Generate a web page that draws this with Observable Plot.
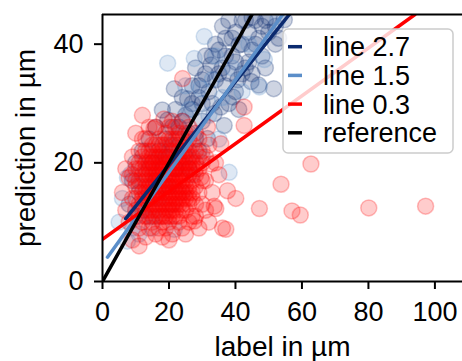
<!DOCTYPE html>
<html><head><meta charset="utf-8">
<script src="https://cdn.jsdelivr.net/npm/d3@7"></script>
<script src="https://cdn.jsdelivr.net/npm/@observablehq/plot@0.6"></script>
<style>body{margin:0;background:#fff;} #chart{position:relative;width:462px;height:361px;}</style>
</head><body><div id="chart"></div>
<script>
const seriesNames = ["line 2.7", "line 1.5", "line 0.3"];
const seriesColors = ["#0b2a6f", "#5b8ec9", "#ff0000"];
const referenceName = "reference";
const referenceColor = "#000000";

// series "line 2.7" points [label, prediction]
const points27 = [[8,13],[9,17],[10,11],[10,20],[11,15],[12,22],[12,12],[13,18],[14,14],[14,24],[15,20],[15,11],[16,17],[16,26],[17,22],[17,14],[18,19],[18,28.9],[19,24],[19.6,27.2],[20,16],[20,21],[21,26],[21.6,32.5],[22,19],[22,29],[23,23],[24,27],[24,31],[25,21],[25.6,30.8],[26,25],[27,29],[27,33],[28,24],[28,36],[29,31],[30,27],[30,34],[31,38],[31.6,24.1],[32.6,36.5],[33,30],[33.6,28.3],[34,40],[35,35],[35.6,29.4],[36.1,43],[36.6,26.3],[37,33],[37,38],[38.1,35.1],[39,41],[39.2,31.1],[40,37],[40.7,34],[41.1,39.9],[42,44],[43,36],[44,42],[44.7,33.7],[45,39],[46,44],[47,33.1],[47,41],[48,38],[49,44],[50,42],[51.5,32.5],[52,40],[54.7,44.1],[38,44],[41,29],[29,22],[26,19],
  [43,44],[45,44.5],[48,43],[50,44.5],[52,43],[53,41],[46,40],[44,37],[42,40],[40,42],[37,41],[35,39],[33,38],[31,35],[29,33],[27,30],[25,28],[23,26],[21,23],[19,21],[36,36],[39,38],[42,35],[45,35],[49,36],[32,32],[30,30],[34,34],[38,30],[40,32]];
// series "line 1.5" points
const points15 = [[5,10],[6,14],[7.5,17.5],[7.5,6.8],[8.5,18.1],[9,9],[10,12],[11,8],[12,16],[13,11],[14,19],[15,9],[16,14],[17,21],[18,11],[19,16],[19.6,36.8],[20,23],[21,13],[21.6,8.8],[22,19],[23,26],[24,15],[25,22],[26,29],[27,18],[27.6,37.6],[28,25],[29.6,32.5],[30,21],[30.6,41.3],[32,28],[33,34],[35,24],[36,31],[38.1,18.4],[39,36],[42,32],[44,40],[47.2,32.8],[48.7,37.4],[52.7,44.1],[25,33],[34,38]];
// series "line 0.3" points
const points03 = [[6,15],[7,19],[7,12],[8,17.5],[9,14],[9,21],[10,12],[10,25],[11,16],[11,22],[11,9],[12,10],[12,18],[12,28],[13,14],[13,24.1],[13,7.5],[14,9],[14,20],[14,16],[15,12],[15,22],[15,18],[15.5,25.8],[16,8],[16,14],[16,26],[17,20],[17,11],[17,16],[18,23],[18,13],[18,7.5],[18,18],[18.5,27.4],[19,9],[19,21],[19,15],[20,17],[20,12],[20,24],[21,19],[21,8],[21,14],[22,21],[22,16],[22,11],[23,25],[23,18],[23,13],[24,9],[24,20],[24,15],[24,27],[24.1,34.2],[25,22],[25,12],[25,17],[26,18],[26,10],[26,24],[27,14],[27,21],[27.6,10.2],[28,16],[28,11],[28,25],[29,19],[29.6,17.5],[30,13],[30,22],[31,17],[31.6,26],[32,10],[32.6,19.8],[33,15],[33.6,12.7],[34,20],[34.1,12.3],[35,18],[35.6,23.2],[36.1,9],[37.1,8.8],[37.6,15.3],[40.1,14],[42.6,26.3],[42.6,29.4],[47.2,12.3],[53.7,16.4],[57,11.9],[59.5,11.2],[62.7,19.8],[80.1,12.4],[97.2,12.7],
  [9,18],[10,16],[10,19],[11,13],[11,19],[12,14],[12,21],[12,24],[13,11],[13,16],[13,20],[14,12],[14,18],[14,22],[14,26],[15,10],[15,15],[15,20],[16,11],[16,17],[16,20],[16,23],[17,9],[17,13],[17,18],[17,24],[18,10],[18,15],[18,21],[19,12],[19,18],[19,23],[20,10],[20,14],[20,19],[20,21],[21,11],[21,16],[21,22],[22,13],[22,18],[22,24],[23,10],[23,15],[23,20],[24,12],[24,17],[24,22],[25,14],[25,19],[26,13],[26,15],[26,21],[27,11],[27,17],[28,13],[28,20],[29,15],[30,17],[31,12],[8,10],[9,7],[11,6],[20,7],[25,8],[29,9],
  [10,14],[10,17],[11,11],[11,17],[11,20],[12,13],[12,15],[12,19],[13,12],[13,15],[13,17],[13,19],[13,22],[14,11],[14,13],[14,15],[14,17],[14,19],[14,21],[15,13],[15,14],[15,16],[15,17],[15,19],[15,21],[15,23],[16,12],[16,13],[16,15],[16,16],[16,18],[16,19],[16,21],[17,12],[17,15],[17,17],[17,19],[17,21],[17,23],[18,11],[18,14],[18,16],[18,17],[18,19],[18,20],[18,22],[19,11],[19,13],[19,14],[19,16],[19,17],[19,19],[19,20],[20,11],[20,13],[20,15],[20,16],[20,18],[20,20],[20,22],[21,12],[21,13],[21,15],[21,17],[21,18],[21,20],[22,12],[22,14],[22,15],[22,17],[22,19],[22,20],[23,11],[23,14],[23,16],[23,17],[23,19],[23,22],[24,13],[24,14],[24,16],[24,18],[24,19],[25,15],[25,16],[25,18],[25,20],[26,14],[26,16],[26,19],[27,15],[27,19],[28,18],
  [19,25],[20,26],[21,24],[21,27],[22,23],[22,26],[23,21],[23,24],[24,21],[24,24],[25,23],[25,25],[26,20],[26,22],[26,26],[27,20],[27,23],[28,19],[28,22],[29,21],[29,24],[30,20],[31,21],[32,23]];

// fitted lines: [start, end] in data units
const line27 = [[7,10.6],[56.2,45]];
const line15 = [[1.5,4.1],[54.2,45]];
const line03 = [[0,7.1],[94,45]];
const lineRef = [[0,0],[45,45]];

const xTicks = [0,20,40,60,80,100];
const yTicks = [0,20,40];
const xDomain = [0,108.3];
const yDomain = [0,45];

const pointSets = [points27, points15, points03];
const lineSets = [line27, line15, line03];

const table = [];
pointSets.forEach((pts, i) => pts.forEach(([x,y]) => table.push({x, y, s: seriesNames[i]})));
const lines = [];
lineSets.forEach((l, i) => l.forEach(([x,y]) => lines.push({x, y, s: seriesNames[i]})));
lineRef.forEach(([x,y]) => lines.push({x, y, s: referenceName}));

const colorDomain = [...seriesNames, referenceName];
const colorRange = [...seriesColors, referenceColor];

const font = "'Liberation Sans', Arial, Helvetica, sans-serif";

const chart = Plot.plot({
  width: 462, height: 361,
  marginLeft: 102, marginRight: 0, marginTop: 14, marginBottom: 80,
  style: {fontFamily: font, fontSize: "27px", color: "#000", background: "#fff"},
  x: {domain: xDomain},
  y: {domain: yDomain},
  color: {domain: colorDomain, range: colorRange},
  marks: [
    Plot.dot(table, {x: "x", y: "y", r: 8, fill: "s", stroke: "s", fillOpacity: 0.2, strokeOpacity: 0.25, strokeWidth: 1.5, clip: true}),
    Plot.line(lines, {x: "x", y: "y", z: "s", stroke: "s", strokeWidth: 3.5, clip: true}),
    Plot.ruleX([xDomain[0]], {stroke: "#000", strokeWidth: 2}),
    Plot.ruleY([yDomain[0]], {stroke: "#000", strokeWidth: 2}),
    Plot.ruleY([yDomain[1]], {stroke: "#000", strokeWidth: 2}),
    Plot.axisX({ticks: xTicks, tickSize: 8, tickPadding: 12, strokeWidth: 2, label: null, fontSize: 27}),
    Plot.axisY({ticks: yTicks, tickSize: 8, tickPadding: 11, strokeWidth: 2, label: null, fontSize: 27}),
    Plot.text(["label in µm"], {frameAnchor: "bottom", dy: 74, lineAnchor: "bottom", textAnchor: "middle", fontSize: 28}),
    Plot.text(["prediction in µm"], {frameAnchor: "left", dx: -68, rotate: -90, lineAnchor: "bottom", textAnchor: "middle", fontSize: 28})
  ]
});
document.getElementById("chart").appendChild(chart);

// legend drawn inside the axes (upper right)
const svg = d3.select(chart);
const lg = svg.append("g").attr("font-family", font).attr("font-size", 27).attr("text-anchor", "start");
lg.append("rect").attr("x", 283).attr("y", 29).attr("width", 170).attr("height", 124)
  .attr("rx", 5).attr("fill", "#fff").attr("fill-opacity", 0.8).attr("stroke", "#cccccc").attr("stroke-width", 1.5);
colorDomain.forEach((name, i) => {
  const cy = 46.7 + i * 28.7;
  lg.append("line").attr("x1", 288).attr("x2", 302).attr("y1", cy).attr("y2", cy)
    .attr("stroke", colorRange[i]).attr("stroke-width", 3.5);
  lg.append("text").attr("x", 323).attr("y", cy).attr("dy", "0.35em").attr("text-anchor", "start").attr("fill", "#000").text(name);
});
</script></body></html>
